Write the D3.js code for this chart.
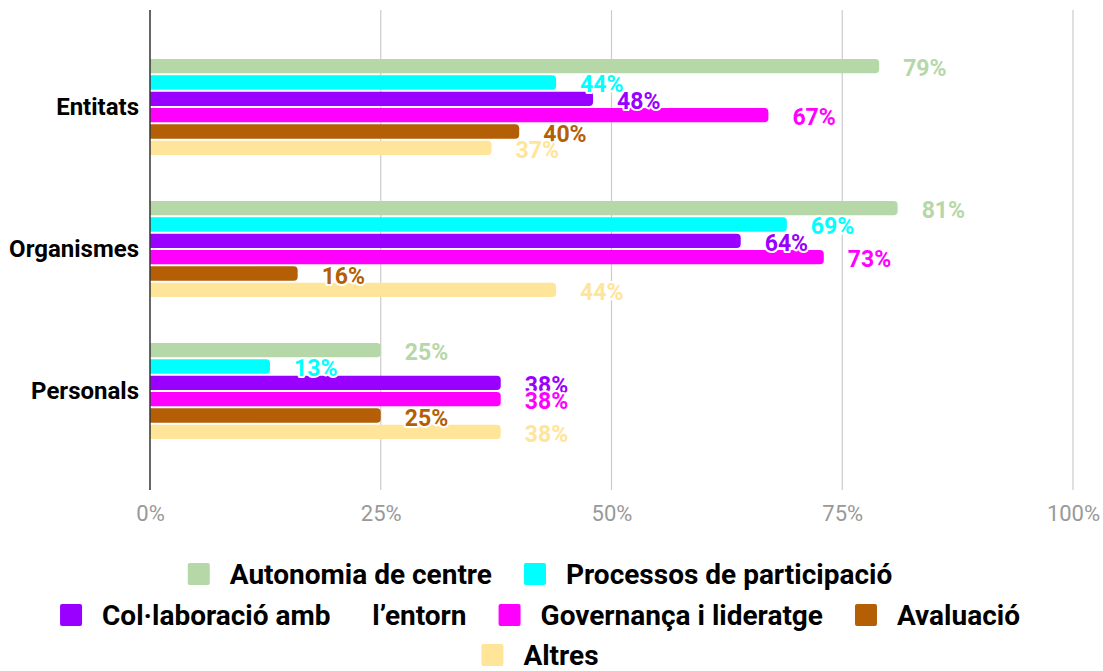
<!DOCTYPE html>
<html>
<head>
<meta charset="utf-8">
<script src="https://cdn.jsdelivr.net/npm/d3@7"></script>
<style>
  html, body { margin: 0; padding: 0; background: #fff; }
  svg { display: block; font-family: Roboto, "Noto Sans", sans-serif; }
</style>
</head>
<body>
<svg id="chart" width="1103" height="671"></svg>
<script>
const categories = ["Entitats", "Organismes", "Personals"];
const seriesNames = ["Autonomia de centre", "Processos de participació", "Col·laboració amb      l’entorn", "Governança i lideratge", "Avaluació", "Altres"];
const seriesColors = ["#b6d7a8", "#00ffff", "#9900ff", "#ff00ff", "#b45f06", "#ffe599"];
const autonomia   = [0.79, 0.81, 0.25];
const processos   = [0.44, 0.69, 0.13];
const collaboracio= [0.48, 0.64, 0.38];
const governanca  = [0.67, 0.73, 0.38];
const avaluacio   = [0.40, 0.16, 0.25];
const altres      = [0.37, 0.44, 0.38];
const seriesValues = [autonomia, processos, collaboracio, governanca, avaluacio, altres];
const xTicks = [0, 0.25, 0.5, 0.75, 1];
const legendRows = [[0, 1], [2, 3, 4], [5]];

const svg = d3.select("#chart");
const x = d3.scaleLinear().domain([0, 1]).range([150, 1073]);
const y0 = d3.scaleBand().domain(categories).range([36, 462]).padding(0);
const inner = 96;
const y1 = d3.scaleBand().domain(d3.range(seriesNames.length)).range([0, inner]).paddingInner(0.125);

// grid
const grid = svg.append("g");
grid.selectAll("line").data(xTicks.filter(t => t > 0)).join("line")
  .attr("x1", d => x(d)).attr("x2", d => x(d))
  .attr("y1", 10).attr("y2", 490)
  .attr("stroke", "#cccccc").attr("stroke-width", 1.2);

// x axis labels
const xAxis = d3.axisBottom(x).tickValues(xTicks).tickFormat(d3.format(".0%")).tickSize(0).tickPadding(0);
const gx = svg.append("g").attr("transform", "translate(0,505)").call(xAxis);
gx.select(".domain").remove();
gx.selectAll("text").attr("font-size", 22).attr("fill", "#999999").attr("dy", "0.71em")
  .attr("font-family", "Roboto");

// bars
function barPath(x0, x1, yt, h, r) {
  const w = x1 - x0;
  r = Math.min(r, w, h / 2);
  return `M${x0},${yt}H${x1 - r}A${r},${r} 0 0 1 ${x1},${yt + r}V${yt + h - r}A${r},${r} 0 0 1 ${x1 - r},${yt + h}H${x0}Z`;
}
const data = [];
categories.forEach((c, ci) => {
  seriesValues.forEach((vals, si) => data.push({ c, si, v: vals[ci] }));
});
const off = (y0.bandwidth() - inner) / 2;
svg.append("g").selectAll("path").data(data).join("path")
  .attr("d", d => barPath(x(0), x(d.v), y0(d.c) + off + y1(d.si), y1.bandwidth(), 4))
  .attr("fill", d => seriesColors[d.si]);

// y axis line
svg.append("line").attr("x1", x(0)).attr("x2", x(0)).attr("y1", 10).attr("y2", 490)
  .attr("stroke", "#333333").attr("stroke-width", 1.5);

// category labels
const yAxis = d3.axisLeft(y0).tickSize(0).tickPadding(0);
const gy = svg.append("g").attr("transform", "translate(139,0)").call(yAxis);
gy.select(".domain").remove();
gy.selectAll("text").attr("font-size", 24).attr("font-weight", "bold").attr("fill", "#000")
  .attr("font-family", "Roboto");

// data labels
svg.append("g").selectAll("text").data(data).join("text")
  .attr("x", d => x(d.v) + 24)
  .attr("y", d => y0(d.c) + off + y1(d.si) + y1.bandwidth() / 2 + 10)
  .attr("font-size", 23).attr("font-weight", "bold")
  .attr("fill", d => seriesColors[d.si])
  .attr("stroke", "#fff").attr("stroke-width", 4).attr("stroke-linejoin", "round")
  .attr("paint-order", "stroke")
  .text(d => d3.format(".0%")(d.v));

// legend
const legend = svg.append("g");
const swatch = 22, gapST = 20, gapItems = 32, legendFont = 28;
const rowY = [574, 615, 655];
legendRows.forEach((row, ri) => {
  const g = legend.append("g");
  let cx = 0;
  row.forEach(si => {
    const item = g.append("g").attr("transform", `translate(${cx},0)`);
    item.append("rect").attr("x", 0).attr("y", -swatch / 2).attr("width", swatch).attr("height", swatch)
      .attr("rx", 2).attr("fill", seriesColors[si]);
    const t = item.append("text").attr("x", swatch + gapST).attr("y", 0).attr("dy", "0.36em")
      .attr("font-size", legendFont).attr("font-weight", "bold").attr("fill", "#000")
      .style("white-space", "pre").text(seriesNames[si]);
    cx += swatch + gapST + t.node().getComputedTextLength() + gapItems;
  });
  const total = cx - gapItems;
  g.attr("transform", `translate(${540 - total / 2},${rowY[ri]})`);
});
</script>
</body>
</html>
